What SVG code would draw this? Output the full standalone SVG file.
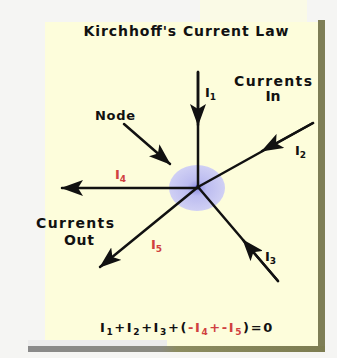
<svg xmlns="http://www.w3.org/2000/svg" width="337" height="358" viewBox="0 0 337 358">
<defs>
<style>
.t{font-family:"DejaVu Sans","Liberation Sans",Arial,sans-serif;font-weight:bold;fill:#111;}
.lbl{font-family:"DejaVu Sans","Liberation Sans",Arial,sans-serif;font-weight:bold;font-size:13px;fill:#111;}
.red{fill:#d04040;}
.w{stroke:#111;stroke-width:2.5;fill:none;stroke-linecap:round;}
</style>
<marker id="ah" viewBox="0 0 22 16" refX="21" refY="8" markerWidth="22" markerHeight="16" markerUnits="userSpaceOnUse" orient="auto">
<path d="M0,0 L22,8 L0,16 L5,8 Z" fill="#111"/>
</marker>
<radialGradient id="ng" cx="0.5" cy="0.5" r="0.5">
<stop offset="0" stop-color="#8c8ce0"/>
<stop offset="0.35" stop-color="#bcbcf0"/>
<stop offset="1" stop-color="#d0d0f4"/>
</radialGradient>
<linearGradient id="bs" x1="0" x2="1" y1="0" y2="0">
<stop offset="0" stop-color="#8a8a8a"/>
<stop offset="0.45" stop-color="#8a8a80"/>
<stop offset="0.5" stop-color="#8c8c60"/>
<stop offset="1" stop-color="#7c7c50"/>
</linearGradient>
</defs>
<rect x="0" y="0" width="337" height="358" fill="#f5f5f3"/>
<rect x="200" y="0" width="107" height="22" fill="#fafae6"/>
<g id="panel">
<rect x="318" y="20" width="7" height="332" fill="#7e7e56"/>
<rect x="28" y="346" width="297" height="6" fill="url(#bs)"/>
<rect x="28" y="340" width="139" height="6" fill="#ececec"/>
<rect x="45" y="22" width="273" height="318" fill="#fdfddb"/>
<rect x="167" y="340" width="151" height="6" fill="#fdfddb"/>
</g>
<g id="title"><text class="t" x="186" y="36" font-size="14" text-anchor="middle" textLength="205" lengthAdjust="spacing">Kirchhoff's Current Law</text></g>
<g id="node">
<ellipse cx="197" cy="188" rx="28" ry="23" fill="url(#ng)"/>
<circle cx="198" cy="187" r="2.5" fill="#5050c8"/>
</g>
<g id="connectors">
<line class="w" x1="198" y1="72" x2="198" y2="187"/>
<line class="w" x1="198" y1="72" x2="198" y2="125" marker-end="url(#ah)"/>
<line class="w" x1="313" y1="123" x2="198" y2="187"/>
<line class="w" x1="313" y1="123" x2="262" y2="151" marker-end="url(#ah)"/>
<line class="w" x1="278" y1="281" x2="198" y2="187"/>
<line class="w" x1="278" y1="281" x2="243" y2="240" marker-end="url(#ah)"/>
<line class="w" x1="198" y1="188" x2="62" y2="188" marker-end="url(#ah)"/>
<line class="w" x1="198" y1="187" x2="100" y2="267" marker-end="url(#ah)"/>
<line class="w" x1="124" y1="124" x2="170" y2="164" marker-end="url(#ah)"/>
</g>
<g id="label-node"><text class="t" x="115" y="120" font-size="13" text-anchor="middle" textLength="40" lengthAdjust="spacing">Node</text></g>
<g id="label-in">
<text class="t" x="273" y="86" font-size="14" text-anchor="middle" textLength="78" lengthAdjust="spacing">Currents</text>
<text class="t" x="273" y="101" font-size="14" text-anchor="middle">In</text>
</g>
<g id="label-out">
<text class="t" x="75" y="228" font-size="14" text-anchor="middle" textLength="78" lengthAdjust="spacing">Currents</text>
<text class="t" x="79" y="245" font-size="14" text-anchor="middle" textLength="30" lengthAdjust="spacing">Out</text>
</g>
<g id="i1"><text class="lbl" x="205" y="97">I<tspan font-size="9" dy="3">1</tspan></text></g>
<g id="i2"><text class="lbl" x="295" y="155">I<tspan font-size="9" dy="3">2</tspan></text></g>
<g id="i3"><text class="lbl" x="265" y="261">I<tspan font-size="9" dy="3">3</tspan></text></g>
<g id="i4"><text class="lbl red" x="115" y="179">I<tspan font-size="9" dy="3">4</tspan></text></g>
<g id="i5"><text class="lbl red" x="151" y="249">I<tspan font-size="9" dy="3">5</tspan></text></g>
<g id="equation"><text class="lbl" x="100" y="332" letter-spacing="1.6">I<tspan font-size="9" dy="3">1</tspan><tspan dy="-3">+I</tspan><tspan font-size="9" dy="3">2</tspan><tspan dy="-3">+I</tspan><tspan font-size="9" dy="3">3</tspan><tspan dy="-3">+(</tspan><tspan class="red">-I</tspan><tspan class="red" font-size="9" dy="3">4</tspan><tspan class="red" dy="-3">+-I</tspan><tspan class="red" font-size="9" dy="3">5</tspan><tspan dy="-3">)=0</tspan></text></g>
</svg>
